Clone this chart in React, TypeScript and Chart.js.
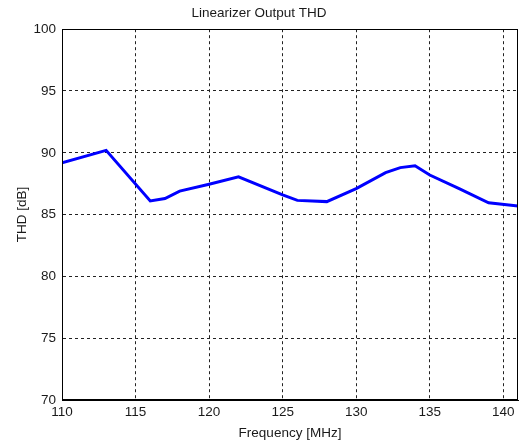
import React, { useEffect, useRef } from "react";
import { Chart, registerables } from "chart.js";

Chart.register(...registerables);

const frequencies = [110, 113, 116, 117, 118, 120, 122, 125, 126, 128, 130, 132, 133, 134, 135, 137, 139, 141];
const thdValues = [89.2, 90.2, 86.1, 86.3, 86.9, 87.45, 88.05, 86.6, 86.15, 86.05, 87.1, 88.4, 88.8, 88.95, 88.2, 87.1, 85.95, 85.7];
const xTickValues = [110, 115, 120, 125, 130, 135, 140];
const yTickValues = [70, 75, 80, 85, 90, 95, 100];

const FONT = "'Liberation Sans', Arial, sans-serif";
const TEXT = "#1a1a1a";

const frame = {
  id: "frame",
  afterDraw(chart: any) {
    const { ctx, chartArea } = chart;
    ctx.save();
    ctx.strokeStyle = "#000";
    ctx.lineWidth = 1;
    ctx.setLineDash([]);
    ctx.strokeRect(
      Math.round(chartArea.left) + 0.5,
      Math.round(chartArea.top) + 0.5,
      Math.round(chartArea.right - chartArea.left) - 1,
      Math.round(chartArea.bottom - chartArea.top) - 1
    );
    ctx.restore();
  },
};

export default function App() {
  const ref = useRef<HTMLCanvasElement | null>(null);

  useEffect(() => {
    if (!ref.current) return;
    const chart = new Chart(ref.current, {
      type: "line",
      data: {
        datasets: [
          {
            data: frequencies.map((f, i) => ({ x: f, y: thdValues[i] })),
            borderColor: "#0000ff",
            borderWidth: 3,
            pointRadius: 0,
            tension: 0,
            fill: false,
          },
        ],
      },
      options: {
        animation: false,
        responsive: false,
        maintainAspectRatio: false,
        layout: { padding: { left: 0, right: 2, top: 0, bottom: 0 } },
        plugins: {
          legend: { display: false },
          tooltip: { enabled: false },
          title: {
            display: true,
            text: "Linearizer Output THD",
            color: TEXT,
            font: { family: FONT, size: 13.5, weight: "normal" },
            padding: { top: 5, bottom: 8 },
          },
        },
        scales: {
          x: {
            type: "linear",
            min: 110,
            max: 141,
            afterBuildTicks: (scale: any) => {
              scale.ticks = xTickValues.map((v) => ({ value: v }));
            },
            afterFit: (scale: any) => {
              scale.height = 45;
            },
            ticks: {
              color: TEXT,
              font: { family: FONT, size: 13.5 },
              padding: 4,
              maxRotation: 0,
              autoSkip: false,
            },
            grid: {
              color: "#222",
              lineWidth: 1,
              drawTicks: false,
            },
            border: { display: true, color: "#000", dash: [3, 3] },
            title: {
              display: true,
              text: "Frequency [MHz]",
              color: TEXT,
              font: { family: FONT, size: 13.5 },
              padding: { top: 0, bottom: 4 },
            },
          },
          y: {
            type: "linear",
            min: 70,
            max: 100,
            afterBuildTicks: (scale: any) => {
              scale.ticks = yTickValues.map((v) => ({ value: v }));
            },
            afterFit: (scale: any) => {
              scale.width = 62;
            },
            ticks: {
              color: TEXT,
              font: { family: FONT, size: 13.5 },
              padding: 6,
            },
            grid: {
              color: "#222",
              lineWidth: 1,
              drawTicks: false,
            },
            border: { display: true, color: "#000", dash: [3, 3] },
            title: {
              display: true,
              text: "THD [dB]",
              color: TEXT,
              font: { family: FONT, size: 13.5 },
              padding: { top: 14, bottom: 0 },
            },
          },
        },
      } as any,
      plugins: [frame],
    });
    return () => chart.destroy();
  }, []);

  return (
    <div style={{ position: "fixed", left: 0, top: 0, width: 520, height: 445, background: "#fff" }}>
      <canvas ref={ref} width={520} height={445} style={{ width: 520, height: 445, display: "block" }} />
    </div>
  );
}
